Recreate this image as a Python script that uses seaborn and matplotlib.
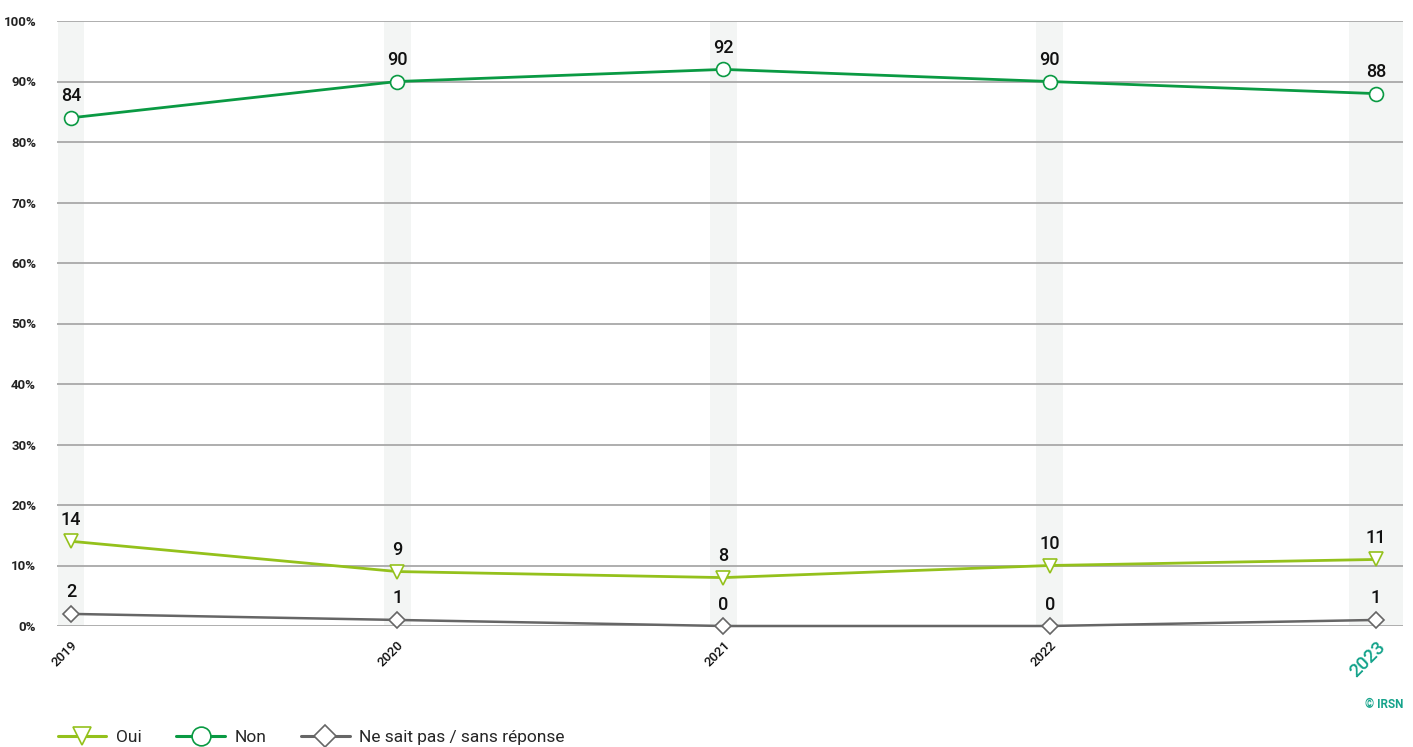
import pandas as pd
import numpy as np
import matplotlib.pyplot as plt
import seaborn as sb
from matplotlib.lines import Line2D

#---- D A T A ----

years = ["2019", "2020", "2021", "2022", "2023"]
oui = [14, 9, 8, 10, 11]
non = [84, 90, 92, 90, 88]
nsp = [2, 1, 0, 0, 1]
series_names = ["Oui", "Non", "Ne sait pas / sans réponse"]
yticks = [0, 10, 20, 30, 40, 50, 60, 70, 80, 90, 100]

colors = {"Oui": "#94c11c", "Non": "#0a9a43", "Ne sait pas / sans réponse": "#666666"}
markers = {"Oui": "v", "Non": "o", "Ne sait pas / sans réponse": "D"}
msizes = {"Oui": 10, "Non": 10, "Ne sait pas / sans réponse": 8}
lwidths = {"Oui": 2.0, "Non": 2.0, "Ne sait pas / sans réponse": 1.8}
teal = "#15a38b"

#----- M A I N -----

sb.set_style("white")
plt.rcParams["font.family"] = ["Roboto", "DejaVu Sans"]

df = pd.DataFrame({"year": np.arange(len(years))})
df["Oui"] = oui
df["Non"] = non
df["Ne sait pas / sans réponse"] = nsp

fig = plt.figure(figsize=(14.13, 7.47), dpi=100)
ax = fig.add_axes([57 / 1413, 121 / 747, (1403 - 57) / 1413, (626 - 21) / 747])

# background bands
for i in range(len(years)):
    half = 0.041 if i < len(years) - 1 else 0.083
    ax.axvspan(i - half, i + half, color="#f3f5f4", zorder=0, lw=0)

# grid
for t in yticks:
    ax.axhline(t, color="#a8a8a8", lw=1.3, zorder=1)

for name in series_names:
    sb.lineplot(x=df["year"], y=df[name], ax=ax, color=colors[name],
                marker=markers[name], markersize=msizes[name],
                markerfacecolor="white", markeredgecolor=colors[name],
                markeredgewidth=1.2, lw=lwidths[name], zorder=3, clip_on=False)
    for i, v in enumerate(df[name]):
        ax.annotate(str(v), (i, v), xytext=(0, 9), textcoords="offset points",
                    ha="center", va="bottom", fontsize=13, fontweight="medium",
                    color="#111111", zorder=4)

ax.set_xlim(-0.043, 4.083)
ax.set_ylim(0, 100)
ax.set_xticks(range(len(years)))
ax.set_xticklabels(years, rotation=45, ha="right", rotation_mode="anchor")
ax.set_yticks(yticks)
ax.set_yticklabels(["{}%".format(t) for t in yticks], fontsize=9.5,
                   fontweight="bold", color="#222222")
ax.tick_params(axis="x", length=0, pad=9, labelsize=9.5, labelcolor="#111111")
ax.tick_params(axis="y", length=0, pad=15)
for lb in ax.get_xticklabels():
    lb.set_fontweight("medium")
lbl = ax.get_xticklabels()[-1]
lbl.set_fontsize(13.5)
lbl.set_color(teal)
ax.set_xlabel("")
ax.set_ylabel("")
for s in ax.spines.values():
    s.set_visible(False)

fig.text(1403 / 1413, 1 - 705 / 747, "© IRSN", ha="right", va="center",
         fontsize=8.5, fontweight="bold", color=teal)

handles = [Line2D([], [], color=colors[n], marker=markers[n],
                  markersize=msizes[n] * 1.35, markerfacecolor="white",
                  markeredgecolor=colors[n], markeredgewidth=1.2, lw=2.2)
           for n in series_names]
fig.legend(handles, series_names, loc="lower left",
           bbox_to_anchor=(42 / 1413, -0.018), ncol=3, frameon=False,
           fontsize=12.5, handlelength=2.8, columnspacing=2.0, handletextpad=0.55)

plt.savefig("out.png", dpi=100)
